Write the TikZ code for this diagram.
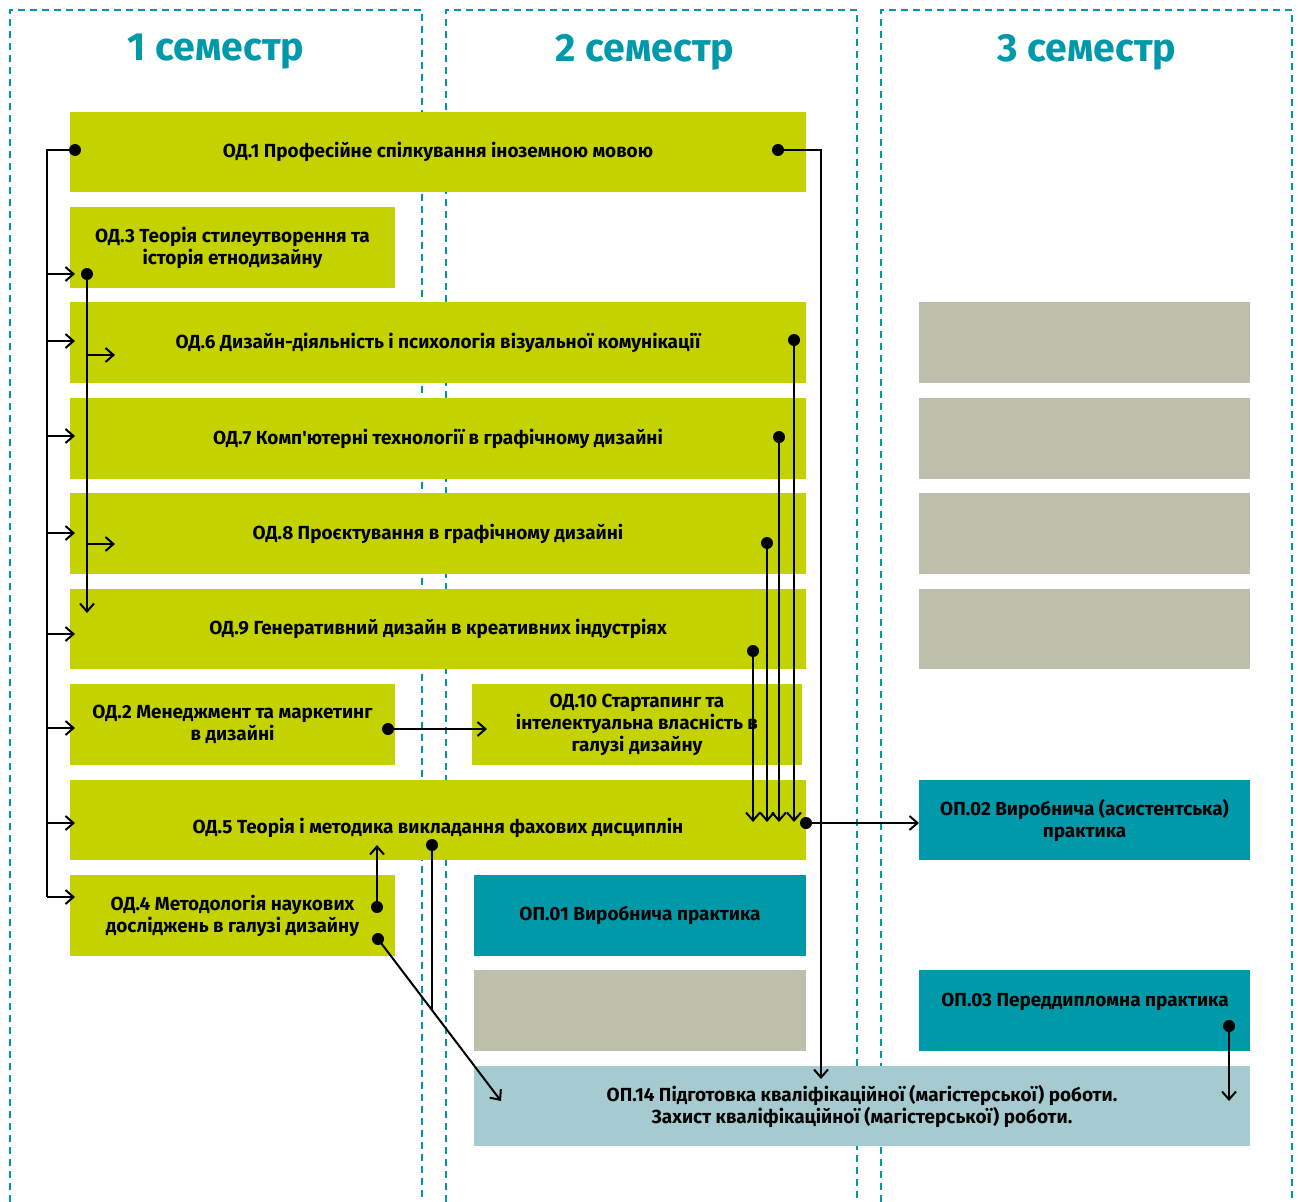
\documentclass[tikz,border=0pt]{standalone}
\usepackage{fontspec}
\setmainfont{Fira Sans}[Ligatures=TeXOff]
\usetikzlibrary{arrows.meta}
\definecolor{cLime}{HTML}{C4D300}
\definecolor{cTeal}{HTML}{0099AA}
\definecolor{cGray}{HTML}{BDBEAC}
\definecolor{cLight}{HTML}{A5CBD0}
\definecolor{cFrame}{HTML}{0097A7}
\newcommand{\mybox}[7]{%
  \node[boxst, fill=#6, minimum width={(#4-#2)*0.75pt}, minimum height={(#5-#3)*0.75pt}]
    (#1) at ({(#2+#4)/2},{(#3+#5)/2}) {#7};}
\begin{document}
\begin{tikzpicture}[x=0.75pt,y=-0.75pt,
  boxst/.style={inner sep=0pt, outer sep=0pt, align=center,
    font=\bfseries\fontsize{14.2}{16.5}\selectfont, text=black},
  txt/.style={inner sep=0pt, align=center, font=\bfseries\fontsize{14.2}{16.5}\selectfont},
  titlest/.style={inner sep=0pt, text=cTeal, font=\bfseries\fontsize{29.5}{32}\selectfont},
  frame/.style={draw=cFrame, line width=1.3pt, dash pattern=on 5pt off 4pt},
  line/.style={draw=black, line width=1.5pt},
  arr/.style={line, -{Straight Barb[length=6pt,width=10.5pt,line width=1.5pt]}},
  dot/.style={circle, fill=black, inner sep=0pt, minimum size=9pt}]
\useasboundingbox (0,0) rectangle (1300,1202);
% column frames
\draw[frame] (10,1202) -- (10,10) -- (422,10) -- (422,1202);
\draw[frame] (446,1202) -- (446,10) -- (857,10) -- (857,1202);
\draw[frame] (881,1202) -- (881,10) -- (1292,10) -- (1292,1202);
% titles
\node[titlest] (t1) at (216,52) {1 семестр};
\node[titlest] (t2) at (645,52) {2 семестр};
\node[titlest] (t3) at (1087,52) {3 семестр};
% boxes
\mybox{od1}{70}{112}{806}{192}{cLime}{ОД.1 Професійне спілкування іноземною мовою}
\mybox{od3}{70}{207}{395}{288}{cLime}{ОД.3 Теорія стилеутворення та\\ історія етнодизайну}
\mybox{od6}{70}{302}{806}{383}{cLime}{ОД.6 Дизайн-діяльність і психологія візуальної комунікації}
\mybox{od7}{70}{398}{806}{479}{cLime}{ОД.7 Комп'ютерні технології в графічному дизайні}
\mybox{od8}{70}{493}{806}{574}{cLime}{ОД.8 Проєктування в графічному дизайні}
\mybox{od9}{70}{589}{806}{669}{cLime}{ОД.9 Генеративний дизайн в креативних індустріях}
\mybox{od2}{70}{684}{395}{765}{cLime}{ОД.2 Менеджмент та маркетинг\\ в дизайні}
\mybox{od10}{472}{684}{802}{765}{cLime}{ОД.10 Стартапинг та\\ інтелектуальна власність в\\ галузі дизайну}
\mybox{od5}{70}{780}{806}{860}{cLime}{}
\node[txt] (od5t) at (438,828) {ОД.5 Теорія і методика викладання фахових дисциплін};
\mybox{od4}{70}{875}{395}{956}{cLime}{ОД.4 Методологія наукових\\ досліджень в галузі дизайну}
\mybox{op01}{474}{875}{806}{956}{cTeal}{ОП.01 Виробнича практика}
\mybox{g1}{474}{970}{806}{1051}{cGray}{}
\mybox{op14}{474}{1066}{1250}{1146}{cLight}{ОП.14 Підготовка кваліфікаційної (магістерської) роботи.\\ Захист кваліфікаційної (магістерської) роботи.}
\mybox{g2}{919}{302}{1250}{383}{cGray}{}
\mybox{g3}{919}{398}{1250}{479}{cGray}{}
\mybox{g4}{919}{493}{1250}{574}{cGray}{}
\mybox{g5}{919}{589}{1250}{669}{cGray}{}
\mybox{op02}{919}{780}{1250}{860}{cTeal}{ОП.02 Виробнича (асистентська)\\ практика}
\mybox{op03}{919}{970}{1250}{1051}{cTeal}{}
\node[txt] (op03t) at (1085,1002) {ОП.03 Переддипломна практика};
% dots
\node[dot] (d1L) at (75,150) {};
\node[dot] (d1R) at (778,150) {};
\node[dot] (d3) at (87,274) {};
\node[dot] (d6) at (794,340) {};
\node[dot] (d7) at (779,437) {};
\node[dot] (d8) at (767,543) {};
\node[dot] (d9) at (753,651) {};
\node[dot] (d2) at (388,729) {};
\node[dot] (d5R) at (806,823) {};
\node[dot] (d4a) at (377,907) {};
\node[dot] (d5) at (432,845) {};
\node[dot] (d4b) at (378,939) {};
\node[dot] (d03) at (1229,1026) {};
% target coordinates
\coordinate (bus) at (47,150);
\coordinate (in3) at (75,274);
\coordinate (in6) at (75,341);
\coordinate (in7) at (75,436);
\coordinate (in8) at (75,533);
\coordinate (in9) at (75,634);
\coordinate (in2) at (75,728);
\coordinate (in5) at (75,823);
\coordinate (in4) at (75,897);
\coordinate (b6) at (115,355);
\coordinate (b8) at (115,544);
\coordinate (b9) at (87,613);
\coordinate (in14a) at (821,1079);
\coordinate (z) at (0,822);
\coordinate (in10) at (487,729);
\coordinate (up5) at (377,845);
\coordinate (e5) at (432,1010);
\coordinate (in14b) at (501,1101);
\coordinate (in14c) at (1229,1101);
\coordinate (in02) at (919,823);
% left bus
\draw[line] (d1L.center) -- (bus) -- (bus |- in4);
\foreach \t in {in3,in6,in7,in8,in9,in2,in5,in4}
  \draw[arr] (bus |- \t) -- (\t);
% OD.3 bus
\draw[arr] (d3.center) -- (b9);
\draw[arr] (d3 |- b6) -- (b6);
\draw[arr] (d3 |- b8) -- (b8);
% OD.1 to OP.14
\draw[arr] (d1R.center) -| (in14a);
% to OD.5
\foreach \d in {d6,d7,d8,d9}
  \draw[arr] (\d.center) -- (\d |- z);
\draw[arr] (d5R.center) -- (in02);
\draw[arr] (d2.center) -- (in10);
\draw[arr] (d4a.center) -- (up5);
\draw[line] (d5.center) -- (e5);
\draw[arr] (d4b.center) -- (in14b);
\draw[arr] (d03.center) -- (in14c);
\end{tikzpicture}
\end{document}
